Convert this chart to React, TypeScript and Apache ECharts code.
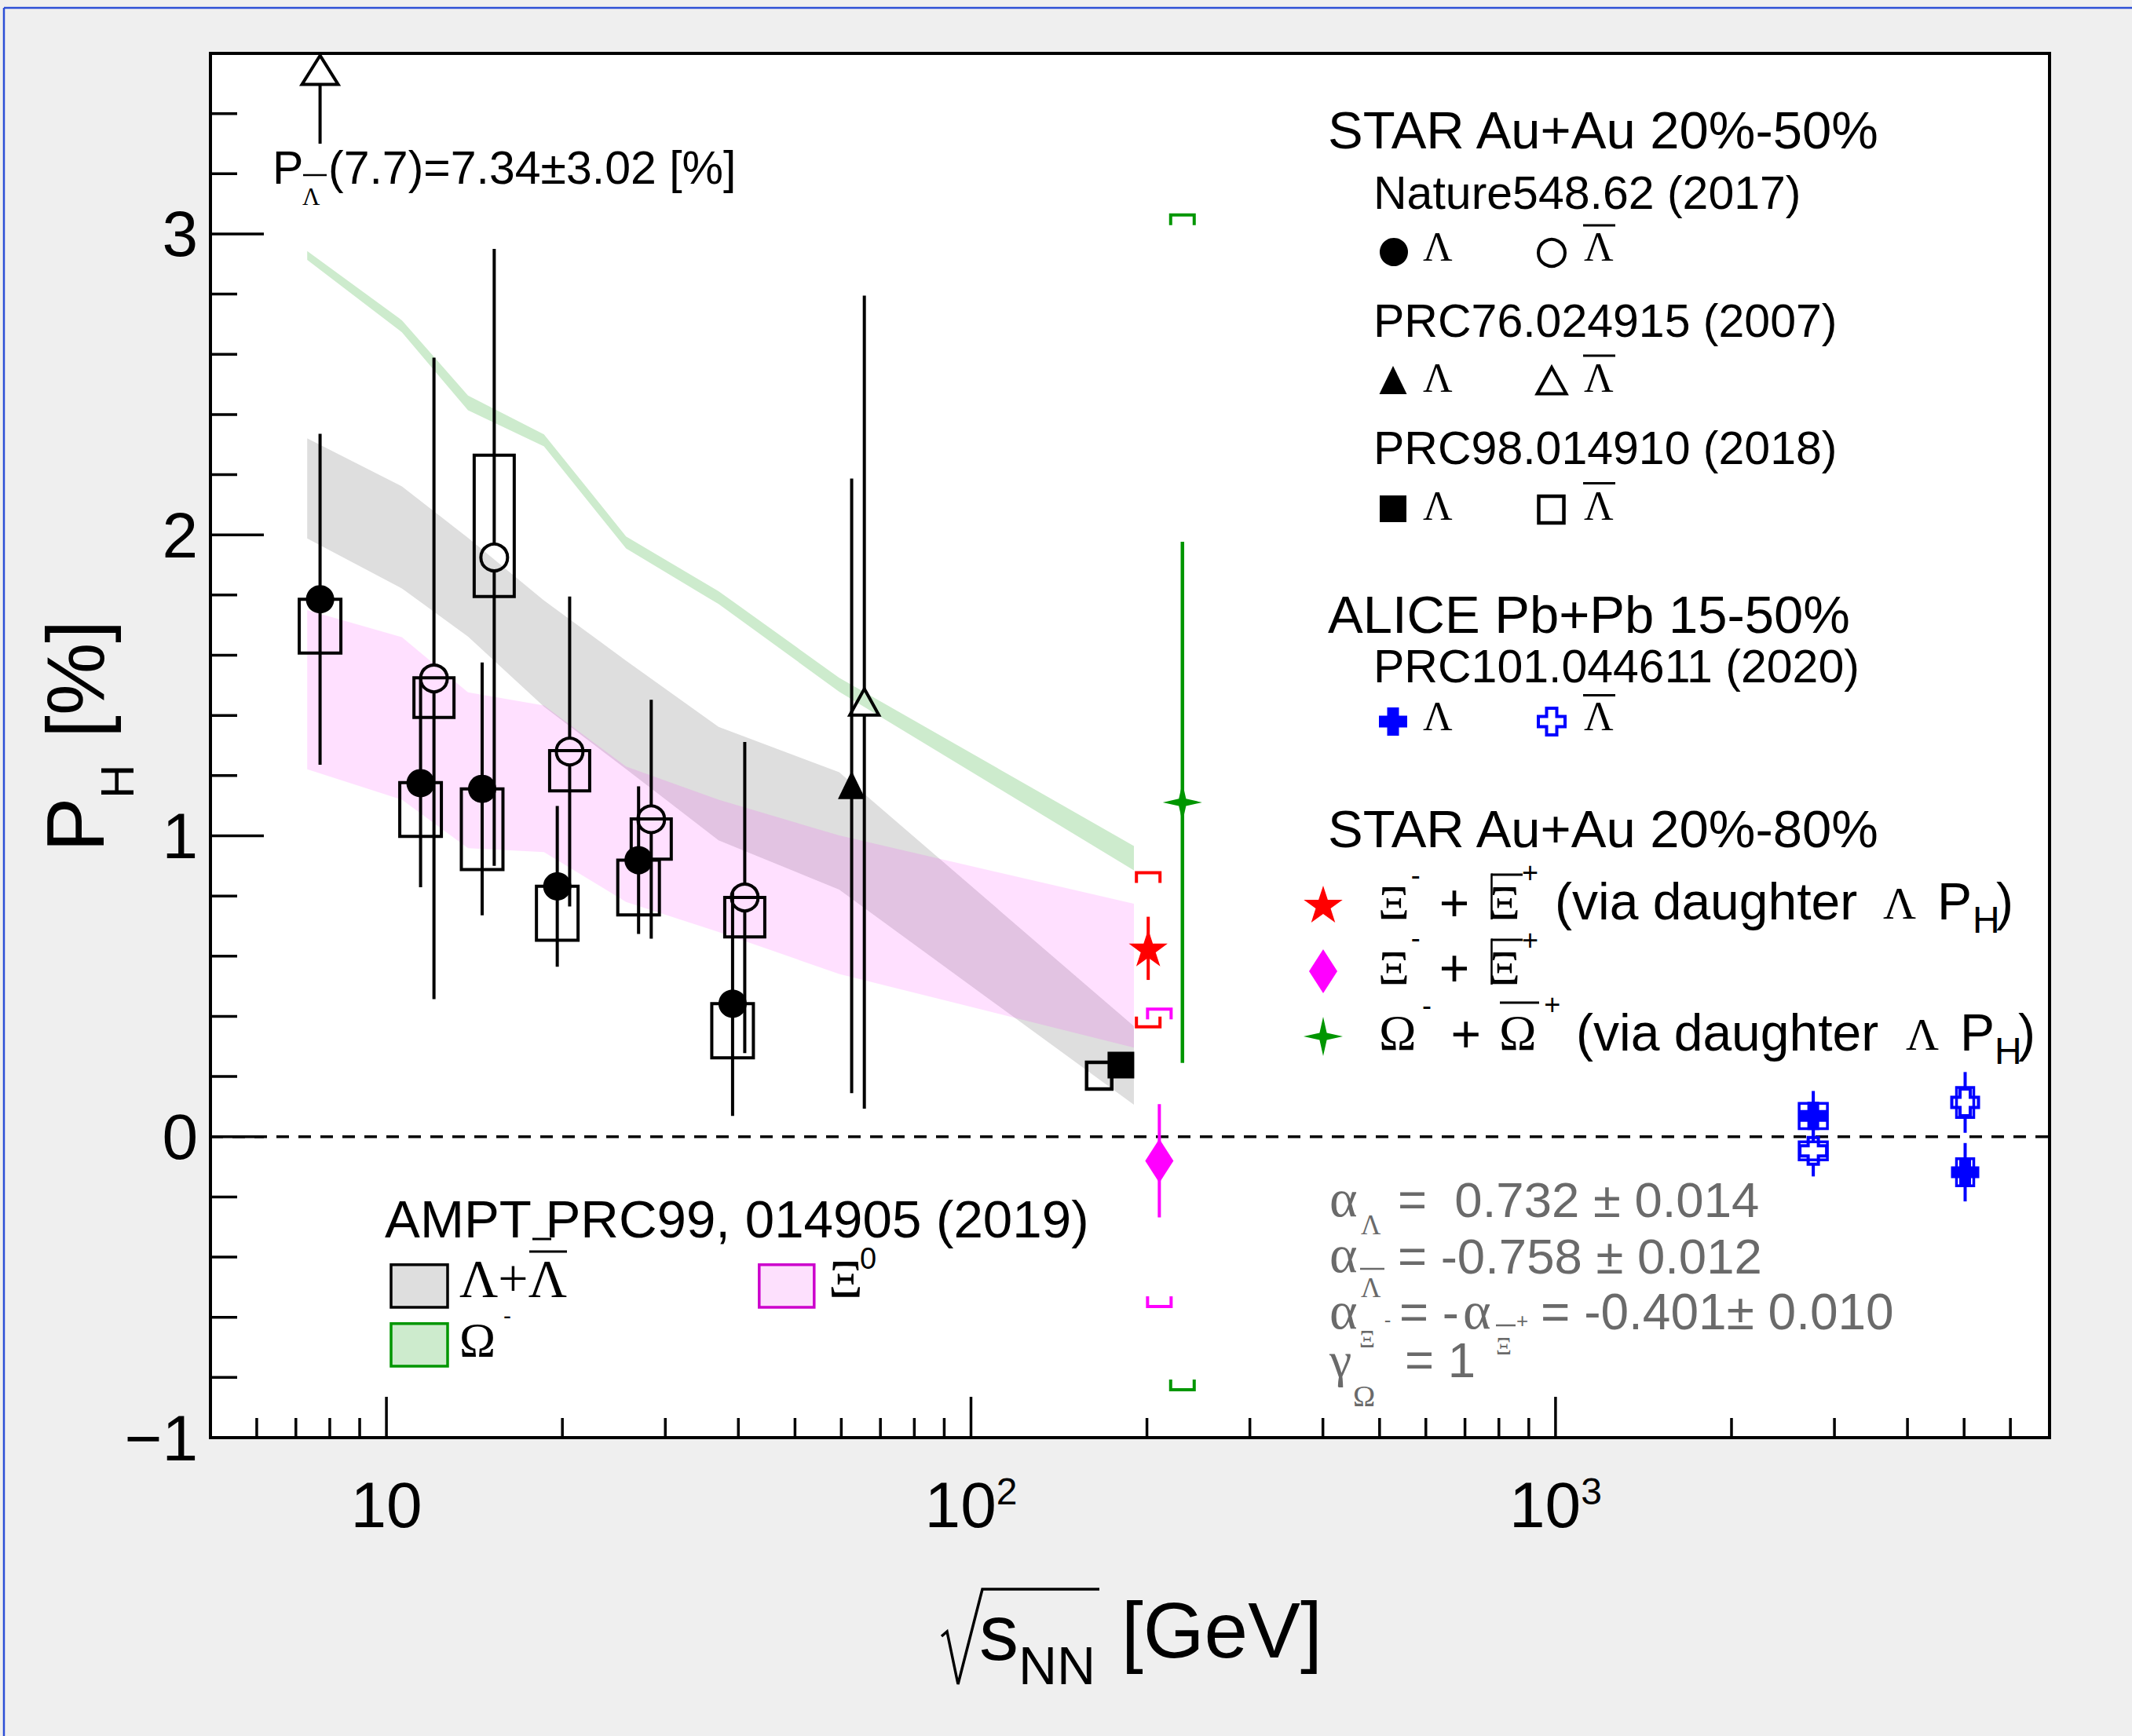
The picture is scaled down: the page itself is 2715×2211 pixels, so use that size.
import React, { useEffect, useRef } from 'react';
import * as echarts from 'echarts';

const W = 2715;
const H = 2211;
const SANS = '"Liberation Sans", Arial, Helvetica, sans-serif';
const SERIF = '"Liberation Serif", "Times New Roman", Times, serif';

// ---------------- axis ticks / labels ----------------
const xMajorTicks = [10, 100, 1000];
const xMinorTicks = [6, 7, 8, 9, 20, 30, 40, 50, 60, 70, 80, 90, 200, 300, 400, 500, 600, 700, 800, 900, 2000, 3000, 4000, 5000, 6000];
const xTickLabels = [10, 100, 1000];
const yMajorTicks = [0, 1, 2, 3];
const yMinorTicks = [-0.8, -0.6, -0.4, -0.2, 0.2, 0.4, 0.6, 0.8, 1.2, 1.4, 1.6, 1.8, 2.2, 2.4, 2.6, 2.8, 3.2, 3.4];
const yTickLabels = [-1, 0, 1, 2, 3];

// ---------------- STAR Nature 548, 62 (2017) ----------------
const natLamX = [7.7, 11.44, 14.58, 19.6, 27.0, 39.1];
const natLamY = [1.786, 1.175, 1.156, 0.832, 0.919, 0.442];
const natLamErr = [0.55, 0.346, 0.42, 0.267, 0.245, 0.373];
const natLamSysLo = [1.607, 0.998, 0.888, 0.653, 0.737, 0.262];
const natLamSysHi = [1.786, 1.177, 1.156, 0.832, 0.919, 0.442];

const natLbarX = [12.06, 15.29, 20.58, 28.38, 41.02];
const natLbarY = [1.523, 1.925, 1.28, 1.055, 0.795];
const natLbarErr = [1.066, 1.025, 0.515, 0.397, 0.517];
const natLbarSysLo = [1.393, 1.795, 1.149, 0.922, 0.664];
const natLbarSysHi = [1.525, 2.265, 1.283, 1.056, 0.795];

// off-scale anti-Lambda at 7.7 GeV (arrow)
const natLbarOffX = [7.7];

// ---------------- STAR PRC76 024915 (2007) ----------------
const prc76LamX = [62.5];
const prc76LamY = [1.166];
const prc76LamErr = [1.021];
const prc76LbarX = [65.7];
const prc76LbarY = [1.444];
const prc76LbarErr = [1.351];

// ---------------- STAR PRC98 014910 (2018) ----------------
const prc98LamX = [180.5];
const prc98LamY = [0.238];
const prc98LamErr = [0.04];
const prc98LbarX = [165.7];
const prc98LbarY = [0.203];
const prc98LbarErr = [0.045];

// ---------------- STAR 20-80% Xi / Omega ----------------
const xiViaLamX = [201];
const xiViaLamY = [0.626];
const xiViaLamErr = [0.105];
const xiViaLamSysLo = [0.365];
const xiViaLamSysHi = [0.877];

const xiX = [210];
const xiY = [-0.08];
const xiErr = [0.188];
const xiSysLo = [-0.564];
const xiSysHi = [0.424];

const omX = [230];
const omY = [1.111];
const omErr = [0.866];
const omSysLo = [-0.841];
const omSysHi = [3.063];

// ---------------- ALICE Pb+Pb 15-50% ----------------
const aliceX = [2760, 5020];
const aliceLamY = [0.069, -0.118];
const aliceLamErr = [0.083, 0.097];
const aliceLamSys = [0.042, 0.045];
const aliceLbarY = [-0.047, 0.114];
const aliceLbarErr = [0.085, 0.101];
const aliceLbarSys = [0.03, 0.05];

// ---------------- AMPT bands ----------------
const bandX = [7.32, 10.63, 13.79, 18.6, 25.7, 37.0, 59.5, 190];
const amptLamHi = [2.321, 2.161, 1.99, 1.782, 1.582, 1.362, 1.211, 0.367];
const amptLamLo = [1.988, 1.822, 1.662, 1.429, 1.222, 0.985, 0.821, 0.106];
const amptXiHi = [1.75, 1.66, 1.477, 1.433, 1.23, 1.12, 1.001, 0.774];
const amptXiLo = [1.221, 1.12, 0.959, 0.946, 0.78, 0.68, 0.541, 0.296];
const amptOmHi = [2.943, 2.713, 2.463, 2.334, 1.995, 1.813, 1.525, 0.966];
const amptOmLo = [2.914, 2.673, 2.414, 2.294, 1.955, 1.77, 1.479, 0.885];

// ---------------- styles ----------------
const GRID = { left: 268, top: 68, width: 2342, height: 1763 };
const RED = '#ff0000';
const MAG = '#ff00ff';
const GREEN = '#009600';
const BLUE = '#0000ff';
const GRAYTXT = '#6a6a6a';
const ALICE_BOX_HALFW = [18, 11];
const ARROW_Y = [3.3, 3.497, 3.593];

function starPts(cx: number, cy: number, n: number, R: number, r: number) {
  const pts: number[][] = [];
  for (let k = 0; k < 2 * n; k++) {
    const a = -Math.PI / 2 + (k * Math.PI) / n;
    const rr = k % 2 === 0 ? R : r;
    pts.push([cx + rr * Math.cos(a), cy + rr * Math.sin(a)]);
  }
  return pts;
}

function crossPts(cx: number, cy: number, h: number, a: number) {
  return [
    [-a, -h], [a, -h], [a, -a], [h, -a], [h, a], [a, a], [a, h], [-a, h], [-a, a], [-h, a], [-h, -a], [-a, -a],
  ].map((p) => [cx + p[0], cy + p[1]]);
}

function markerShape(kind: string, cx: number, cy: number, color: string): any {
  switch (kind) {
    case 'circleF':
      return { type: 'circle', shape: { cx, cy, r: 18 }, style: { fill: color } };
    case 'circleO':
      return { type: 'circle', shape: { cx, cy, r: 17 }, style: { fill: 'none', stroke: color, lineWidth: 4 } };
    case 'triF':
      return { type: 'polygon', shape: { points: [[cx, cy - 19], [cx + 17.5, cy + 17], [cx - 17.5, cy + 17]] }, style: { fill: color } };
    case 'triO':
      return { type: 'polygon', shape: { points: [[cx, cy - 17], [cx + 18.5, cy + 16.5], [cx - 18.5, cy + 16.5]] }, style: { fill: 'none', stroke: color, lineWidth: 4 } };
    case 'sqF':
      return { type: 'rect', shape: { x: cx - 17, y: cy - 17, width: 34, height: 34 }, style: { fill: color } };
    case 'sqO':
      return { type: 'rect', shape: { x: cx - 16, y: cy - 17, width: 32, height: 34 }, style: { fill: 'none', stroke: color, lineWidth: 4.5 } };
    case 'star5':
      return { type: 'polygon', shape: { points: starPts(cx, cy + 2, 5, 26, 10) }, style: { fill: color } };
    case 'star4':
      return { type: 'polygon', shape: { points: starPts(cx, cy, 4, 25, 6.5) }, style: { fill: color } };
    case 'diamond':
      return { type: 'polygon', shape: { points: [[cx, cy - 28], [cx + 18, cy], [cx, cy + 28], [cx - 18, cy]] }, style: { fill: color } };
    case 'crossF':
      return { type: 'polygon', shape: { points: crossPts(cx, cy, 18, 7.5) }, style: { fill: color } };
    case 'crossO':
      return { type: 'polygon', shape: { points: crossPts(cx, cy, 17, 6.5) }, style: { fill: 'none', stroke: color, lineWidth: 4 } };
    default:
      return { type: 'circle', shape: { cx, cy, r: 10 }, style: { fill: color } };
  }
}

function pointSeries(name: string, xs: number[], ys: number[], errs: number[], marker: string, color: string, opts: any = {}) {
  const data = xs.map((x, i) => {
    const row = [x, ys[i], ys[i] - errs[i], ys[i] + errs[i]];
    if (opts.sysLo) row.push(opts.sysLo[i], opts.sysHi[i]);
    return row;
  });
  const gap = opts.gap || 0;
  const lw = opts.lw || 4;
  return {
    type: 'custom',
    name,
    silent: true,
    z: opts.z || 10,
    data,
    renderItem: (params: any, api: any) => {
      const x = api.value(0);
      const y = api.value(1);
      const c = api.coord([x, y]);
      const lo = api.coord([x, api.value(2)])[1];
      const hi = api.coord([x, api.value(3)])[1];
      const ch: any[] = [];
      if (opts.sysLo) {
        const sl = api.coord([x, api.value(4)])[1];
        const sh = api.coord([x, api.value(5)])[1];
        if (opts.sysType === 'bracket') {
          const hw = 15;
          const t = 13;
          ch.push({ type: 'polyline', shape: { points: [[c[0] - hw, sh + t], [c[0] - hw, sh], [c[0] + hw, sh], [c[0] + hw, sh + t]] }, style: { fill: 'none', stroke: color, lineWidth: 4 } });
          ch.push({ type: 'polyline', shape: { points: [[c[0] - hw, sl - t], [c[0] - hw, sl], [c[0] + hw, sl], [c[0] + hw, sl - t]] }, style: { fill: 'none', stroke: color, lineWidth: 4 } });
        } else {
          const hw = Array.isArray(opts.boxHalfW) ? opts.boxHalfW[params.dataIndex] : opts.boxHalfW || 26.5;
          ch.push({ type: 'rect', shape: { x: c[0] - hw, y: sh, width: 2 * hw, height: sl - sh }, style: { fill: 'none', stroke: color, lineWidth: opts.boxLw || 4 } });
        }
      }
      if (gap > 0) {
        if (c[1] - gap > hi) ch.push({ type: 'line', shape: { x1: c[0], y1: hi, x2: c[0], y2: c[1] - gap }, style: { stroke: color, lineWidth: lw } });
        if (lo > c[1] + gap) ch.push({ type: 'line', shape: { x1: c[0], y1: c[1] + gap, x2: c[0], y2: lo }, style: { stroke: color, lineWidth: lw } });
      } else {
        ch.push({ type: 'line', shape: { x1: c[0], y1: hi, x2: c[0], y2: lo }, style: { stroke: color, lineWidth: lw } });
      }
      ch.push(markerShape(marker, c[0], c[1], color));
      return { type: 'group', children: ch };
    },
  };
}

function bandSeries(lo: number[], hi: number[], fill: string, z: number) {
  return {
    type: 'custom',
    silent: true,
    z,
    data: bandX.map((x, i) => [x, lo[i], hi[i]]),
    renderItem: (params: any, api: any) => {
      if (params.dataIndex !== 0) return null;
      const top = bandX.map((x, i) => api.coord([x, hi[i]]));
      const bot = bandX.map((x, i) => api.coord([x, lo[i]])).reverse();
      return { type: 'polygon', shape: { points: top.concat(bot) }, style: { fill } };
    },
  };
}

function xTickSeries() {
  const data = xMajorTicks.map((v) => [v, -1, 1]).concat(xMinorTicks.map((v) => [v, -1, 0]));
  return {
    type: 'custom',
    silent: true,
    z: 20,
    data,
    renderItem: (params: any, api: any) => {
      const c = api.coord([api.value(0), -1]);
      const len = api.value(2) ? 52 : 25;
      return { type: 'line', shape: { x1: c[0], y1: c[1], x2: c[0], y2: c[1] - len }, style: { stroke: '#000', lineWidth: 3.5 } };
    },
  };
}

function yTickSeries() {
  const data = yMajorTicks.map((v) => [5, v, 1]).concat(yMinorTicks.map((v) => [5, v, 0]));
  return {
    type: 'custom',
    silent: true,
    z: 20,
    data,
    renderItem: (params: any, api: any) => {
      const c = api.coord([5, api.value(1)]);
      const len = api.value(2) ? 68 : 34;
      return { type: 'line', shape: { x1: c[0], y1: c[1], x2: c[0] + len, y2: c[1] }, style: { stroke: '#000', lineWidth: 3.5 } };
    },
  };
}

function arrowSeries() {
  return {
    type: 'custom',
    silent: true,
    z: 12,
    data: natLbarOffX.map((x) => [x, ARROW_Y[0], ARROW_Y[1], ARROW_Y[2]]),
    renderItem: (params: any, api: any) => {
      const x = api.value(0);
      const a = api.coord([x, api.value(1)]);
      const b = api.coord([x, api.value(2)]);
      const t = api.coord([x, api.value(3)]);
      return {
        type: 'group',
        children: [
          { type: 'line', shape: { x1: a[0], y1: a[1], x2: b[0], y2: b[1] }, style: { stroke: '#000', lineWidth: 4 } },
          { type: 'polygon', shape: { points: [[t[0], t[1]], [t[0] + 23, b[1]], [t[0] - 23, b[1]]] }, style: { fill: '#fff', stroke: '#000', lineWidth: 4 } },
        ],
      };
    },
  };
}

// ---------------- graphic helpers ----------------
function T(text: string, x: number, base: number, fs: number, o: any = {}): any {
  const align = o.align || 'left';
  return {
    type: 'text',
    x,
    y: base - 0.347 * fs,
    z: 60,
    silent: true,
    style: {
      text,
      fontSize: fs,
      fontFamily: o.serif ? SERIF : SANS,
      fill: o.color || '#000',
      align,
      textAlign: align,
      verticalAlign: 'middle',
      textVerticalAlign: 'middle',
    },
  };
}

function L(x1: number, y1: number, x2: number, y2: number, color = '#000', lw = 3): any {
  return { type: 'line', z: 60, silent: true, shape: { x1, y1, x2, y2 }, style: { stroke: color, lineWidth: lw } };
}

function M(kind: string, cx: number, cy: number, color: string): any {
  const m = markerShape(kind, cx, cy, color);
  m.z = 60;
  m.silent = true;
  return m;
}

function R(x: number, y: number, w: number, h: number, fill: string, stroke: string): any {
  return { type: 'rect', z: 60, silent: true, shape: { x, y, width: w, height: h }, style: { fill, stroke, lineWidth: 3.5 } };
}

function rotT(text: string, x: number, y: number, fs: number): any {
  return {
    type: 'text',
    x,
    y,
    rotation: Math.PI / 2,
    z: 60,
    silent: true,
    style: { text, fontSize: fs, fontFamily: SANS, fill: '#000', align: 'left', textAlign: 'left', verticalAlign: 'middle', textVerticalAlign: 'middle' },
  };
}

function graphics(): any[] {
  const g: any[] = [];
  // blue frame lines of the slide
  g.push(L(5, 10, 5, H, '#2d4fd6', 2.5));
  g.push(L(5, 10, W, 10, '#2d4fd6', 2.5));

  // annotation for off-scale point
  g.push(T('P', 347, 234, 59));
  g.push(T('\u039B', 385, 261, 31, { serif: true }));
  g.push(L(386, 223, 416, 223, '#000', 2.5));
  g.push(T('(7.7)=7.34\u00B13.02 [%]', 418, 234, 59));

  // STAR 20-50 legend
  g.push(T('STAR Au+Au 20%-50%', 1691, 189, 67));
  g.push(T('Nature548.62 (2017)', 1749, 266.5, 59));
  g.push(M('circleF', 1775, 321, '#000'));
  g.push(T('\u039B', 1812, 332.5, 52, { serif: true }));
  g.push(M('circleO', 1976, 322, '#000'));
  g.push(T('\u039B', 2017, 332.5, 52, { serif: true }));
  g.push(L(2016, 287, 2057, 287, '#000', 3));

  g.push(T('PRC76.024915 (2007)', 1749, 429, 59));
  g.push(M('triF', 1774, 485, '#000'));
  g.push(T('\u039B', 1812, 500, 52, { serif: true }));
  g.push(M('triO', 1976, 485, '#000'));
  g.push(T('\u039B', 2017, 500, 52, { serif: true }));
  g.push(L(2016, 453, 2057, 453, '#000', 3));

  g.push(T('PRC98.014910 (2018)', 1749, 591, 59));
  g.push(M('sqF', 1774, 648, '#000'));
  g.push(T('\u039B', 1812, 663, 52, { serif: true }));
  g.push(M('sqO', 1975.5, 649, '#000'));
  g.push(T('\u039B', 2017, 663, 52, { serif: true }));
  g.push(L(2016, 615.5, 2057, 615.5, '#000', 3));

  // ALICE legend
  g.push(T('ALICE Pb+Pb 15-50%', 1691, 806, 67));
  g.push(T('PRC101.044611 (2020)', 1749, 869, 59));
  g.push(M('crossF', 1774, 919, BLUE));
  g.push(T('\u039B', 1812, 931, 52, { serif: true }));
  g.push(M('crossO', 1976, 919, BLUE));
  g.push(T('\u039B', 2017, 931, 52, { serif: true }));
  g.push(L(2016, 885.5, 2057, 885.5, '#000', 3));

  // STAR 20-80 legend
  g.push(T('STAR Au+Au 20%-80%', 1691, 1079, 67));
  // line 1
  g.push(M('star5', 1685, 1152, RED));
  g.push(T('\u039E', 1755, 1171, 62, { serif: true }));
  g.push(T('-', 1802.7, 1126.5, 36, { align: 'center' }));
  g.push(T('+', 1852, 1173, 66, { align: 'center' }));
  g.push(T('\u039E', 1896, 1171, 62, { serif: true }));
  g.push(L(1899, 1114, 1939, 1114, '#000', 3));
  g.push(L(1899.5, 1112.5, 1899.5, 1171, '#000', 2.5));
  g.push(T('+', 1948.4, 1124, 36, { align: 'center' }));
  g.push(T('(via daughter', 1980, 1171, 66));
  g.push(T('\u039B', 2398, 1171, 58, { serif: true }));
  g.push(T('P', 2467, 1171, 66));
  g.push(T('H', 2512, 1188, 48));
  g.push(T(')', 2542, 1171, 66));
  // line 2
  g.push(M('diamond', 1685, 1237, MAG));
  g.push(T('\u039E', 1755, 1254, 62, { serif: true }));
  g.push(T('-', 1802.7, 1207, 36, { align: 'center' }));
  g.push(T('+', 1852, 1256, 66, { align: 'center' }));
  g.push(T('\u039E', 1896, 1254, 62, { serif: true }));
  g.push(L(1899, 1197, 1939, 1197, '#000', 3));
  g.push(L(1899.5, 1195.5, 1899.5, 1254, '#000', 2.5));
  g.push(T('+', 1948.4, 1210, 36, { align: 'center' }));
  // line 3
  g.push(M('star4', 1685, 1320, GREEN));
  g.push(T('\u03A9', 1756, 1337.5, 64, { serif: true }));
  g.push(T('-', 1817, 1293, 36, { align: 'center' }));
  g.push(T('+', 1866.7, 1340, 66, { align: 'center' }));
  g.push(T('\u03A9', 1909, 1337.5, 64, { serif: true }));
  g.push(L(1910, 1277, 1960, 1277, '#000', 3));
  g.push(T('+', 1976.8, 1292, 36, { align: 'center' }));
  g.push(T('(via daughter', 2007, 1337.5, 66));
  g.push(T('\u039B', 2427, 1337.5, 58, { serif: true }));
  g.push(T('P', 2496, 1337.5, 66));
  g.push(T('H', 2540, 1355, 48));
  g.push(T(')', 2570, 1337.5, 66));

  // decay parameters (gray)
  const gc = { color: GRAYTXT };
  g.push(T('\u03B1', 1693, 1550, 68, { serif: true, color: GRAYTXT }));
  g.push(T('\u039B', 1733, 1573, 35, { serif: true, color: GRAYTXT }));
  g.push(T('=  0.732 \u00B1 0.014', 1780, 1550, 63.5, gc));

  g.push(T('\u03B1', 1693, 1621, 68, { serif: true, color: GRAYTXT }));
  g.push(T('\u039B', 1733, 1653, 35, { serif: true, color: GRAYTXT }));
  g.push(L(1732, 1616, 1763, 1616, GRAYTXT, 2.5));
  g.push(T('= -0.758 \u00B1 0.012', 1780, 1621.6, 63.5, gc));

  g.push(T('\u03B1', 1693, 1693, 68, { serif: true, color: GRAYTXT }));
  g.push(T('\u039E', 1731, 1716, 31, { serif: true, color: GRAYTXT }));
  g.push(T('-', 1767, 1690, 26, { align: 'center', color: GRAYTXT }));
  g.push(T('= -', 1782, 1693, 63.5, gc));
  g.push(T('\u03B1', 1863, 1693, 68, { serif: true, color: GRAYTXT }));
  g.push(T('\u039E', 1905, 1725, 31, { serif: true, color: GRAYTXT }));
  g.push(L(1905, 1688, 1930, 1688, GRAYTXT, 2.5));
  g.push(T('+', 1938.5, 1691, 26, { align: 'center', color: GRAYTXT }));
  g.push(T('= -0.401\u00B1 0.010', 1962, 1693, 64, gc));

  g.push(T('\u03B3', 1693, 1754, 64, { serif: true, color: GRAYTXT }));
  g.push(T('\u03A9', 1723, 1791, 38, { serif: true, color: GRAYTXT }));
  g.push(T('= 1', 1789, 1754, 63.5, gc));

  // AMPT legend
  g.push(T('AMPT PRC99, 014905 (2019)', 490, 1576, 67.3));
  g.push(L(678, 1578, 702, 1578, '#000', 3));
  g.push(R(498, 1610.7, 72, 54.3, '#dedede', '#000'));
  g.push(T('\u039B+\u039B', 585, 1652, 68, { serif: true }));
  g.push(L(674, 1594, 722, 1594, '#000', 3));
  g.push(R(966.8, 1610.7, 70, 54.3, '#fde0fd', '#cc00cc'));
  g.push(T('\u039E', 1055, 1652, 68, { serif: true }));
  g.push(T('0', 1095, 1616, 38));
  g.push(R(498, 1685.7, 72, 54.3, '#cdebcd', '#009600'));
  g.push(T('\u03A9', 585, 1728, 62, { serif: true }));
  g.push(T('-', 646, 1686, 30, { align: 'center' }));

  // x-axis title
  g.push({ type: 'polyline', z: 60, silent: true, shape: { points: [[1199, 2084], [1206, 2078], [1220, 2145], [1251, 2024], [1400, 2024]] }, style: { fill: 'none', stroke: '#000', lineWidth: 3.5 } });
  g.push(T('s', 1247, 2114, 100));
  g.push(T('NN', 1297, 2145, 68));
  g.push(T('[GeV]', 1428, 2111, 100));

  // y-axis title (rotated)
  g.push(rotT('P', 96, 1085, 104));
  g.push(rotT('H', 149, 1017, 60));
  g.push(rotT('[%]', 96, 940, 104));
  return g;
}

function buildOption(): any {
  const xLabel = (v: number) => {
    const hit = xTickLabels.find((t) => Math.abs(t - v) < 1e-6 * t);
    if (!hit) return '';
    const e = Math.round(Math.log10(hit));
    return e === 1 ? '{b|10}' : '{b|10}{s|' + e + '}';
  };
  const yLabel = (v: number) => {
    const hit = yTickLabels.find((t) => Math.abs(t - v) < 1e-9);
    if (hit === undefined) return '';
    return hit < 0 ? '\u2212' + Math.abs(hit) : String(hit);
  };
  return {
    animation: false,
    backgroundColor: '#efefef',
    grid: { ...GRID, show: true, backgroundColor: '#ffffff', borderColor: '#000', borderWidth: 4, containLabel: false },
    xAxis: {
      type: 'log',
      logBase: 10,
      min: 5,
      max: 7000,
      axisLine: { show: false },
      axisTick: { show: false },
      minorTick: { show: false },
      splitLine: { show: false },
      axisLabel: {
        interval: 0,
        margin: 44,
        formatter: xLabel,
        rich: {
          b: { fontSize: 82, fontFamily: SANS, color: '#000', lineHeight: 82 },
          s: { fontSize: 48, fontFamily: SANS, color: '#000', lineHeight: 20, verticalAlign: 'top' },
        },
      },
    },
    yAxis: {
      type: 'value',
      min: -1,
      max: 3.6,
      interval: 1,
      axisLine: { show: false },
      axisTick: { show: false },
      splitLine: { show: false },
      axisLabel: { margin: 16, fontSize: 82, fontFamily: SANS, color: '#000', formatter: yLabel },
    },
    series: [
      bandSeries(amptLamLo, amptLamHi, '#dedede', 1),
      bandSeries(amptXiLo, amptXiHi, 'rgba(255,0,255,0.12)', 1),
      bandSeries(amptOmLo, amptOmHi, '#cdebcd', 1),
      {
        type: 'line',
        silent: true,
        z: 3,
        symbol: 'none',
        data: [[5, 0], [7000, 0]],
        lineStyle: { color: '#000', width: 3.5, type: [16, 12] },
      },
      xTickSeries(),
      yTickSeries(),
      arrowSeries(),
      pointSeries('natLam', natLamX, natLamY, natLamErr, 'circleF', '#000', { sysLo: natLamSysLo, sysHi: natLamSysHi, boxHalfW: 26.5 }),
      pointSeries('natLbar', natLbarX, natLbarY, natLbarErr, 'circleO', '#000', { sysLo: natLbarSysLo, sysHi: natLbarSysHi, boxHalfW: 25.5, gap: 17 }),
      pointSeries('prc76Lam', prc76LamX, prc76LamY, prc76LamErr, 'triF', '#000', {}),
      pointSeries('prc76Lbar', prc76LbarX, prc76LbarY, prc76LbarErr, 'triO', '#000', { gap: 17 }),
      pointSeries('prc98Lbar', prc98LbarX, prc98LbarY, prc98LbarErr, 'sqO', '#000', { gap: 17 }),
      pointSeries('prc98Lam', prc98LamX, prc98LamY, prc98LamErr, 'sqF', '#000', {}),
      pointSeries('xiViaLam', xiViaLamX, xiViaLamY, xiViaLamErr, 'star5', RED, { sysLo: xiViaLamSysLo, sysHi: xiViaLamSysHi, sysType: 'bracket' }),
      pointSeries('xi', xiX, xiY, xiErr, 'diamond', MAG, { sysLo: xiSysLo, sysHi: xiSysHi, sysType: 'bracket' }),
      pointSeries('om', omX, omY, omErr, 'star4', GREEN, { sysLo: omSysLo, sysHi: omSysHi, sysType: 'bracket', lw: 4.5 }),
      pointSeries('aliceLbar', aliceX, aliceLbarY, aliceLbarErr, 'crossO', BLUE, {
        sysLo: aliceLbarY.map((y, i) => y - aliceLbarSys[i]),
        sysHi: aliceLbarY.map((y, i) => y + aliceLbarSys[i]),
        boxHalfW: ALICE_BOX_HALFW,
        boxLw: 3.5,
        gap: 17,
      }),
      pointSeries('aliceLam', aliceX, aliceLamY, aliceLamErr, 'crossF', BLUE, {
        sysLo: aliceLamY.map((y, i) => y - aliceLamSys[i]),
        sysHi: aliceLamY.map((y, i) => y + aliceLamSys[i]),
        boxHalfW: ALICE_BOX_HALFW,
        boxLw: 3.5,
      }),
    ],
    graphic: { elements: graphics() },
  };
}

export default function App() {
  const ref = useRef<HTMLDivElement>(null);
  useEffect(() => {
    document.body.style.margin = '0';
    const chart = echarts.init(ref.current as HTMLDivElement, null, { renderer: 'svg' });
    chart.setOption(buildOption());
    return () => chart.dispose();
  }, []);
  return <div ref={ref} style={{ position: 'absolute', left: 0, top: 0, width: W, height: H }} />;
}
